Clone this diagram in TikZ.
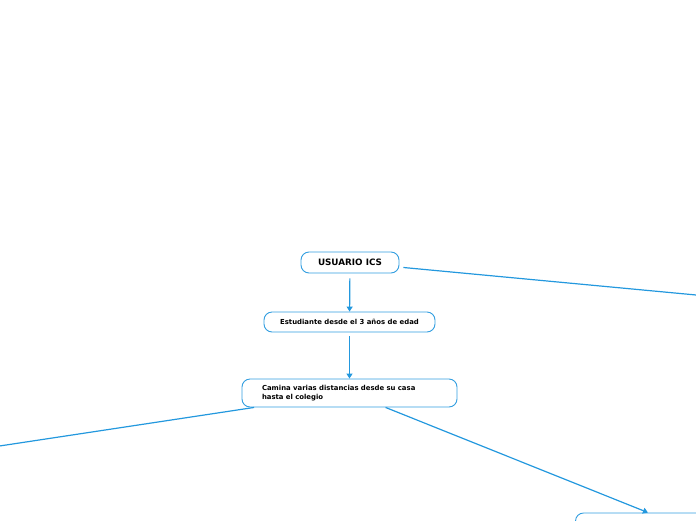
\documentclass[tikz,border=0pt]{standalone}
\usepackage{fontspec}
\setmainfont{DejaVu Sans}
\usetikzlibrary{arrows.meta}
\definecolor{mmline}{RGB}{35,152,222}
\definecolor{mmbox}{RGB}{50,158,224}
\tikzset{
  mmtopic/.style={draw=mmbox, line width=0.9pt, rounded corners=8pt, fill=white, font=\bfseries\fontsize{8.8}{10}\selectfont, minimum height=21pt, inner sep=2pt},
  mmsub/.style={draw=mmbox, line width=0.9pt, rounded corners=8pt, fill=white, font=\bfseries\fontsize{6.9}{9.5}\selectfont, minimum height=20pt, inner sep=2pt},
  mmlink/.style={draw=mmline, line width=1.2pt},
  mmarrow/.style={mmlink, -{Triangle[length=5pt, width=6pt]}}
}

\begin{document}
\begin{tikzpicture}[x=1pt, y=-1pt]
    % canvas
    \useasboundingbox (0,0) rectangle (696,520);
    \clip (0,0) rectangle (696,520);
    % nodes
    \node[mmtopic, minimum width=98pt] (usuario) at (350,262.5) {USUARIO ICS};
    \node[mmsub, minimum width=171pt] (estudiante) at (349.5,322) {Estudiante desde el 3 años de edad};
    \node[mmsub, minimum height=28pt, text width=175pt, inner xsep=20pt, align=left] (camina) at (349.5,393)
      {Camina varias distancias desde su casa\\hasta el colegio};
    \node[mmsub, minimum width=247pt, minimum height=40pt] (destino) at (699,533) {};
    % free ends outside the canvas
    \coordinate (izq) at (-60,455);
    \coordinate (der) at (760,301);
    % connectors
    \draw[mmarrow, shorten <=5pt] (usuario) -- (estudiante);
    \draw[mmarrow, shorten <=4pt] (estudiante) -- (camina);
    \draw[mmarrow] (camina) -- (destino);
    \draw[mmlink] (camina) -- (izq);
    \draw[mmlink, shorten <=4pt] (usuario) -- (der);
\end{tikzpicture}
\end{document}
